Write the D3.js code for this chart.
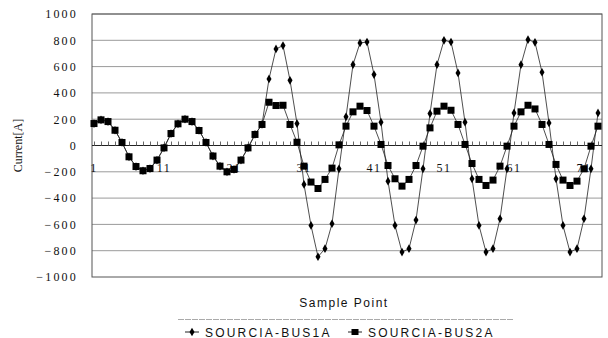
<!DOCTYPE html>
<html>
<head>
<meta charset="utf-8">
<script src="https://cdn.jsdelivr.net/npm/d3@7"></script>
<style>
  body { margin: 0; background: #fff; }
  svg text { fill: #111; }
</style>
</head>
<body>
<div id="chart"></div>
<script>
    // sample numbers 1..73
    const samples = d3.range(1, 74);
    const xTickLabels = [1, 11, 21, 31, 41, 51, 61, 71];
    const yTicks = [-1000, -800, -600, -400, -200, 0, 200, 400, 600, 800, 1000];

    const bus1a = [
        167, 195, 182, 116, 23, -86, -160, -192, -175, -111, -18, 91, 165, 200, 182, 114, 23, -80, -157, -200,
        -182, -111, -18, 84, 160, 506, 734, 760, 496, 167, -296, -608, -846, -785, -595, -177, 218, 615, 780, 787,
        539, 177, -271, -608, -810, -785, -567, -177, 243, 615, 800, 787, 552, 177, -253, -608, -810, -785, -557, -177,
        248, 615, 805, 785, 557, 172, -253, -608, -810, -785, -557, -177, 248
    ];
    const bus2a = [
        167, 195, 182, 116, 23, -86, -160, -192, -175, -111, -18, 91, 165, 200, 182, 114, 23, -80, -157, -200,
        -182, -111, -18, 84, 160, 329, 304, 306, 160, 25, -157, -278, -327, -258, -172, 5, 147, 256, 299, 266,
        147, 8, -152, -253, -309, -258, -152, -5, 134, 261, 299, 268, 160, 8, -137, -258, -304, -263, -157, -5,
        147, 256, 306, 278, 160, 8, -144, -263, -304, -271, -177, -5, 147
    ];
    const seriesNames = ["SOURCIA-BUS1A", "SOURCIA-BUS2A"];

    const width = 608, height = 338;
    const plot = { left: 92, right: 602, top: 14, bottom: 277 };

    const svg = d3.select("#chart").append("svg")
        .attr("width", width)
        .attr("height", height);

    const x = d3.scaleLinear().domain([1, 73]).range([94, 598]);
    const y = d3.scaleLinear().domain([-1000, 1000]).range([plot.bottom, plot.top]);

    // gridlines
    svg.append("g")
        .selectAll("line")
        .data(yTicks.filter(d => d !== 0 && d !== -1000))
        .join("line")
        .attr("x1", plot.left).attr("x2", plot.right)
        .attr("y1", d => y(d)).attr("y2", d => y(d))
        .attr("stroke", "#9a9a9a")
        .attr("stroke-width", 1);

    // plot border
    svg.append("rect")
        .attr("x", plot.left).attr("y", plot.top)
        .attr("width", plot.right - plot.left)
        .attr("height", plot.bottom - plot.top)
        .attr("fill", "none")
        .attr("stroke", "#555")
        .attr("stroke-width", 1);

    // y axis labels
    const yAxis = svg.append("g")
        .attr("transform", `translate(${plot.left - 14},0)`)
        .call(d3.axisLeft(y).tickValues(yTicks).tickFormat(d3.format("d")).tickSize(0).tickPadding(0));
    yAxis.select(".domain").remove();
    yAxis.selectAll("text")
        .attr("font-family", "Liberation Serif, Times New Roman, serif")
        .attr("font-size", 12)
        .attr("letter-spacing", 2.2)
        .attr("fill", "#111");

    // zero axis with category ticks
    const xAxis = svg.append("g")
        .attr("transform", `translate(0,${y(0)})`)
        .call(d3.axisTop(x).tickValues(samples).tickSize(4).tickFormat(""));
    xAxis.select(".domain")
        .attr("d", `M${plot.left},0H${plot.right}`)
        .attr("stroke", "#222");
    xAxis.selectAll(".tick line").attr("stroke", "#666");

    svg.append("g")
        .selectAll("text")
        .data(xTickLabels)
        .join("text")
        .attr("x", d => x(d))
        .attr("y", y(0) + 26)
        .attr("text-anchor", "middle")
        .attr("font-family", "Liberation Serif, Times New Roman, serif")
        .attr("font-size", 12)
        .attr("letter-spacing", 1.5)
        .text(d => d);

    const line = d3.line()
        .x((d, i) => x(samples[i]))
        .y(d => y(d));

    // BUS1A line + diamonds
    svg.append("path")
        .datum(bus1a)
        .attr("fill", "none")
        .attr("stroke", "#222")
        .attr("stroke-width", 0.8)
        .attr("d", line);

    svg.append("g")
        .selectAll("path")
        .data(bus1a)
        .join("path")
        .attr("transform", (d, i) => `translate(${x(samples[i])},${y(d)})`)
        .attr("d", d3.symbol(d3.symbolDiamond, 22))
        .attr("fill", "#000");

    // BUS2A line + squares
    svg.append("path")
        .datum(bus2a)
        .attr("fill", "none")
        .attr("stroke", "#222")
        .attr("stroke-width", 0.8)
        .attr("d", line);

    svg.append("g")
        .selectAll("rect")
        .data(bus2a)
        .join("rect")
        .attr("x", (d, i) => x(samples[i]) - 3.5)
        .attr("y", d => y(d) - 3.5)
        .attr("width", 7)
        .attr("height", 7)
        .attr("fill", "#000");

    // axis titles
    svg.append("text")
        .attr("transform", `translate(22,${(plot.top + plot.bottom) / 2}) rotate(-90)`)
        .attr("text-anchor", "middle")
        .attr("font-family", "Liberation Serif, Times New Roman, serif")
        .attr("font-size", 12)
        .text("Current[A]");

    svg.append("text")
        .attr("x", 344)
        .attr("y", 307)
        .attr("text-anchor", "middle")
        .attr("font-family", "Liberation Sans, Arial, sans-serif")
        .attr("font-size", 12)
        .attr("letter-spacing", 1.5)
        .text("Sample Point");

    // legend
    const legend = svg.append("g");
    legend.append("line")
        .attr("x1", 178).attr("x2", 514)
        .attr("y1", 319.5).attr("y2", 319.5)
        .attr("stroke", "#aaa")
        .attr("stroke-dasharray", "6,1");

    const legendX = [185, 348];
    seriesNames.forEach((name, i) => {
        const g = legend.append("g").attr("transform", `translate(${legendX[i]},332)`);
        g.append("line")
            .attr("x1", 0).attr("x2", 14)
            .attr("stroke", "#222");
        if (i === 0) {
            g.append("path")
                .attr("transform", "translate(7,0)")
                .attr("d", d3.symbol(d3.symbolDiamond, 22))
                .attr("fill", "#000");
        } else {
            g.append("rect")
                .attr("x", 3.5).attr("y", -3)
                .attr("width", 7).attr("height", 6)
                .attr("fill", "#000");
        }
        g.append("text")
            .attr("x", 20)
            .attr("y", 4.5)
            .attr("font-family", "Liberation Sans, Arial, sans-serif")
            .attr("font-size", 12)
            .attr("letter-spacing", 2.2)
            .text(name);
    });
</script>
</body>
</html>
